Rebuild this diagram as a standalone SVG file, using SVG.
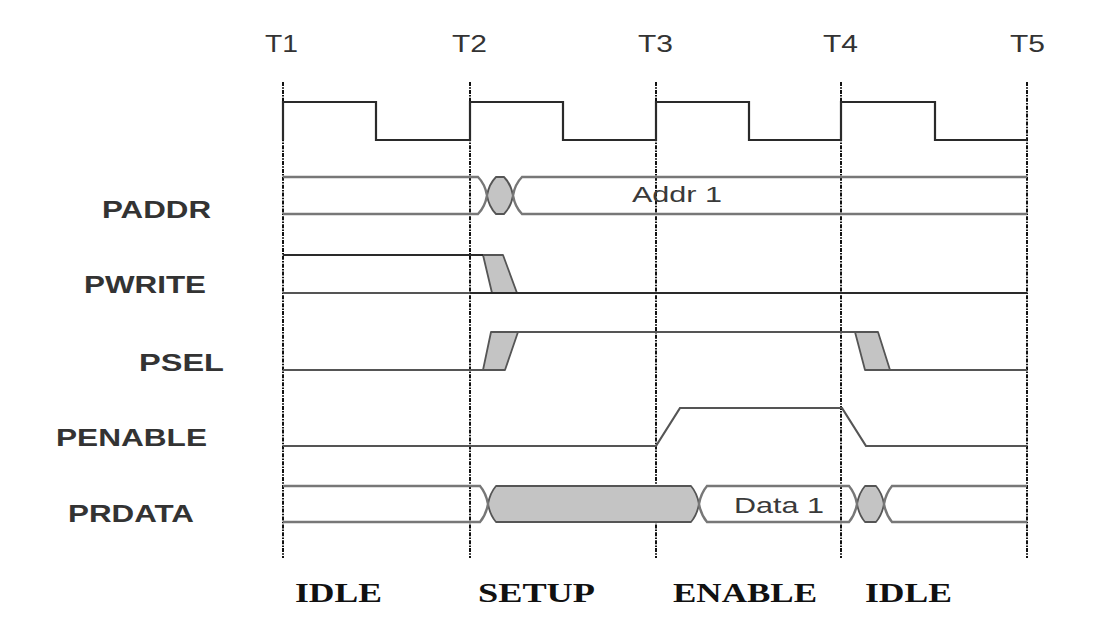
<svg xmlns="http://www.w3.org/2000/svg" width="1110" height="622" viewBox="0 0 1110 622">
<style>
.bg{fill:#ffffff}
.grid{stroke:#111;stroke-width:2;stroke-dasharray:4 1.2 1.5 1.2;fill:none}
.clk{stroke:#2a2a2a;stroke-width:2.2;fill:none}
.sig{stroke:#555;stroke-width:2.2;fill:none}
.sigd{stroke:#2a2a2a;stroke-width:2.2;fill:none}
.bus{stroke:#777;stroke-width:2.4;fill:none}
.gry{stroke:#555;stroke-width:1.8;fill:#c4c4c4;stroke-linejoin:round}
.tl{font-family:"Liberation Sans",Arial,sans-serif;font-size:23px;fill:#333}
.nm{font-family:"Liberation Sans",Arial,sans-serif;font-size:23px;font-weight:bold;fill:#333}
.val{font-family:"Liberation Sans",Arial,sans-serif;font-size:22px;fill:#3a3a3a}
.ph{font-family:"Liberation Serif","Times New Roman",serif;font-size:27px;font-weight:bold;fill:#111}
</style>
<rect class="bg" x="0" y="0" width="1110" height="622"/>

<g id="time-labels">
<text class="tl" x="265" y="52" textLength="33" lengthAdjust="spacingAndGlyphs">T1</text>
<text class="tl" x="452" y="52" textLength="35" lengthAdjust="spacingAndGlyphs">T2</text>
<text class="tl" x="638" y="52" textLength="35" lengthAdjust="spacingAndGlyphs">T3</text>
<text class="tl" x="823" y="52" textLength="35" lengthAdjust="spacingAndGlyphs">T4</text>
<text class="tl" x="1010" y="52" textLength="35" lengthAdjust="spacingAndGlyphs">T5</text>
</g>

<g id="grid-lines">
<line class="grid" x1="283" y1="82" x2="283" y2="558"/>
<line class="grid" x1="470" y1="82" x2="470" y2="558"/>
<line class="grid" x1="656" y1="82" x2="656" y2="558"/>
<line class="grid" x1="841" y1="82" x2="841" y2="558"/>
<line class="grid" x1="1027" y1="82" x2="1027" y2="558"/>
</g>

<g id="clock">
<path class="clk" d="M283,140 V102 H376 V140 H470 V102 H563 V140 H656 V102 H749 V140 H841 V102 H935 V140 H1027"/>
</g>

<g id="paddr">
<text class="nm" x="102" y="218" textLength="109" lengthAdjust="spacingAndGlyphs">PADDR</text>
<path class="gry" d="M487,195.5 Q489,184 496,177 H504 Q511,184 513,195.5 Q511,207 504,214 H496 Q489,207 487,195.5 Z"/>
<path class="bus" d="M283,177 H478 Q485,184 487,195.5 Q485,207 478,214 H283"/>
<path class="bus" d="M1027,177 H522 Q515,184 513,195.5 Q515,207 522,214 H1027"/>
<text class="val" x="632" y="202" textLength="90" lengthAdjust="spacingAndGlyphs">Addr 1</text>
</g>

<g id="pwrite">
<text class="nm" x="84" y="293" textLength="122" lengthAdjust="spacingAndGlyphs">PWRITE</text>
<polygon class="gry" points="483,255 503,255 517,293 492,293"/>
<path class="sigd" d="M283,255 H483"/>
<path class="sig" d="M283,293 H470"/>
<path class="sigd" d="M470,293 H1027"/>
</g>

<g id="psel">
<text class="nm" x="139" y="371" textLength="85" lengthAdjust="spacingAndGlyphs">PSEL</text>
<polygon class="gry" points="483,370 505,370 518,332 491,332"/>
<polygon class="gry" points="855,332 878,332 890,370 865,370"/>
<path class="sig" d="M283,370 H483"/>
<path class="sig" d="M518,332 H855"/>
<path class="sig" d="M890,370 H1027"/>
</g>

<g id="penable">
<text class="nm" x="56" y="446" textLength="151" lengthAdjust="spacingAndGlyphs">PENABLE</text>
<path class="sig" d="M283,446 H656 L680,408 H842 L866,446 H1027"/>
</g>

<g id="prdata">
<text class="nm" x="68" y="522" textLength="126" lengthAdjust="spacingAndGlyphs">PRDATA</text>
<path class="gry" d="M488,504 Q490,493 496,486 H691 Q697,493 699,504 Q697,515 691,522 H496 Q490,515 488,504 Z"/>
<path class="gry" d="M857,504 Q859,493 865,486 H876 Q882,493 884,504 Q882,515 876,522 H865 Q859,515 857,504 Z"/>
<path class="bus" d="M283,486 H480 Q486,493 488,504 Q486,515 480,522 H283"/>
<path class="bus" d="M699,504 Q701,493 707,486 H849 Q855,493 857,504 Q855,515 849,522 H707 Q701,515 699,504 Z"/>
<path class="bus" d="M1027,486 H892 Q886,493 884,504 Q886,515 892,522 H1027"/>
<text class="val" x="734" y="513" textLength="90" lengthAdjust="spacingAndGlyphs">Data 1</text>
</g>

<g id="phases">
<text class="ph" x="295" y="602" textLength="87" lengthAdjust="spacingAndGlyphs">IDLE</text>
<text class="ph" x="478" y="602" textLength="117" lengthAdjust="spacingAndGlyphs">SETUP</text>
<text class="ph" x="673" y="602" textLength="144" lengthAdjust="spacingAndGlyphs">ENABLE</text>
<text class="ph" x="865" y="602" textLength="87" lengthAdjust="spacingAndGlyphs">IDLE</text>
</g>
</svg>
